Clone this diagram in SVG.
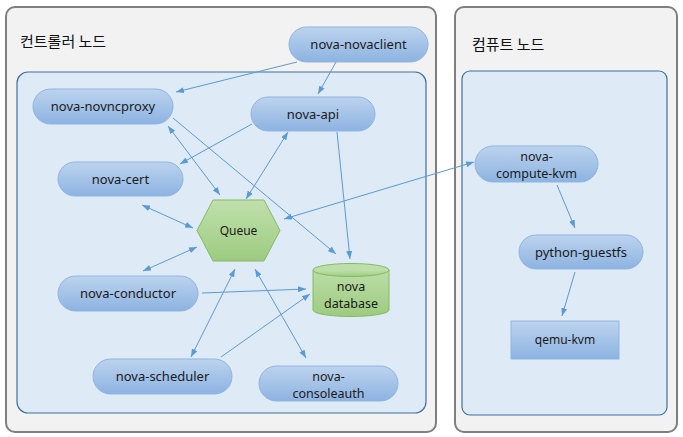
<svg xmlns="http://www.w3.org/2000/svg" width="683" height="437" viewBox="0 0 683 437">
<defs>
<linearGradient id="gBlue" x1="0" y1="0" x2="0" y2="1">
<stop offset="0" stop-color="#bcd3ee"/>
<stop offset="1" stop-color="#8db3e1"/>
</linearGradient>
<linearGradient id="gGreen" x1="0" y1="0" x2="0" y2="1">
<stop offset="0" stop-color="#c0e0ac"/>
<stop offset="1" stop-color="#9dcb80"/>
</linearGradient>
<marker id="ah" viewBox="0 0 8 6" refX="8" refY="3" markerWidth="8" markerHeight="6" markerUnits="userSpaceOnUse" orient="auto-start-reverse">
<path d="M0,0 L8,3 L0,6 z" fill="#5b9bd5"/>
</marker>
<style>
.outer{fill:#f2f2f2;stroke:#7f7f7f;stroke-width:2}
.inner{fill:#deeaf6;stroke:#41719c;stroke-width:1.2}
.pill{fill:url(#gBlue);stroke:#8fb5e2;stroke-width:1}
.green{fill:url(#gGreen);stroke:#84bb62;stroke-width:1}
.title{font-family:"Noto Sans CJK KR","Noto Sans",sans-serif;font-size:15px;fill:#111}
.lbl{font-family:"Noto Sans","Noto Sans CJK KR",sans-serif;font-size:13px;fill:#1a1a1a;text-anchor:middle}
.two{font-size:12.5px}
.sm{font-size:12px}
.c line,.c path{stroke:#5b9bd5;stroke-width:1;fill:none}
.e{marker-end:url(#ah)}
.b{marker-start:url(#ah);marker-end:url(#ah)}
</style>
</defs>
<g id="controller-node">
<rect class="outer" x="6" y="7" width="430" height="425" rx="9"/>
<text class="title" x="20" y="47">컨트롤러 노드</text>
<rect class="inner" x="17" y="72" width="409" height="341" rx="11"/>
</g>
<g id="compute-node">
<rect class="outer" x="455" y="7" width="222" height="425" rx="9"/>
<text class="title" x="472" y="50">컴퓨트 노드</text>
<rect class="inner" x="462" y="71" width="205" height="344" rx="8"/>
</g>
<g class="c" id="connectors">
<line class="e" x1="297" y1="62" x2="176" y2="92"/>
<line class="e" x1="336" y1="62" x2="318" y2="94"/>
<line class="e" x1="252" y1="124" x2="180" y2="164"/>
<line class="b" x1="168" y1="126" x2="220" y2="195"/>
<line class="b" x1="288" y1="132" x2="246" y2="199"/>
<line class="e" x1="173" y1="118" x2="336" y2="254"/>
<line class="e" x1="337" y1="132" x2="350" y2="259"/>
<line class="b" x1="474" y1="162" x2="284" y2="219"/>
<line class="b" x1="142" y1="205" x2="193" y2="228"/>
<line class="b" x1="143" y1="271" x2="197" y2="247"/>
<line class="e" x1="202" y1="293" x2="306" y2="289"/>
<line class="b" x1="235" y1="269" x2="191" y2="357"/>
<line class="e" x1="221" y1="357" x2="310" y2="294"/>
<line class="b" x1="255" y1="269" x2="306" y2="358"/>
<line class="e" x1="557" y1="185" x2="575" y2="228"/>
<line class="e" x1="575" y1="272" x2="562" y2="316"/>
</g>
<g id="nova-novaclient">
<rect class="pill" x="289" y="27" width="139" height="35" rx="17.5"/>
<text class="lbl" x="358.5" y="49">nova-novaclient</text>
</g>
<g id="nova-novncproxy">
<rect class="pill" x="33" y="89" width="140" height="35" rx="17.5"/>
<text class="lbl" x="103" y="111">nova-novncproxy</text>
</g>
<g id="nova-api">
<rect class="pill" x="251" y="97" width="124" height="34" rx="17"/>
<text class="lbl" x="313" y="118.5">nova-api</text>
</g>
<g id="nova-cert">
<rect class="pill" x="58" y="162" width="125" height="34" rx="17"/>
<text class="lbl" x="120.5" y="183.5">nova-cert</text>
</g>
<g id="queue">
<polygon class="green" points="213,200 264,200 280,230.5 264,261 213,261 197,230.5"/>
<text class="lbl sm" x="238.5" y="235">Queue</text>
</g>
<g id="nova-database">
<path class="green" d="M313,270 A38,6.5 0 0 1 389,270 L389,310 A38,6.5 0 0 1 313,310 Z"/>
<path class="green" d="M313,270 A38,6.5 0 0 0 389,270" fill="none"/>
<text class="lbl two" x="351" y="290.5"><tspan x="351">nova</tspan><tspan x="351" dy="17.2">database</tspan></text>
</g>
<g id="nova-conductor">
<rect class="pill" x="58" y="276" width="140" height="35" rx="17.5"/>
<text class="lbl" x="128" y="298">nova-conductor</text>
</g>
<g id="nova-scheduler">
<rect class="pill" x="93" y="359" width="139" height="35" rx="17.5"/>
<text class="lbl" x="162.5" y="381">nova-scheduler</text>
</g>
<g id="nova-consoleauth">
<rect class="pill" x="259" y="366" width="139" height="35" rx="17.5"/>
<text class="lbl two" x="328.5" y="380.5"><tspan x="328.5">nova-</tspan><tspan x="328.5" dy="17.2">consoleauth</tspan></text>
</g>
<g id="nova-compute-kvm">
<rect class="pill" x="475" y="146" width="123" height="36" rx="18"/>
<text class="lbl two" x="536.5" y="160.5"><tspan x="536.5">nova-</tspan><tspan x="536.5" dy="17.2">compute-kvm</tspan></text>
</g>
<g id="python-guestfs">
<rect class="pill" x="519" y="235" width="124" height="34" rx="17"/>
<text class="lbl" x="581" y="256.5">python-guestfs</text>
</g>
<g id="qemu-kvm">
<rect class="pill" x="511" y="321" width="108" height="38"/>
<text class="lbl sm" x="565" y="344">qemu-kvm</text>
</g>
</svg>
